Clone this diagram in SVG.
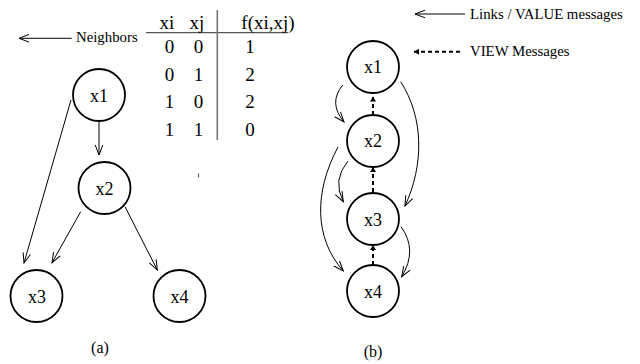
<svg xmlns="http://www.w3.org/2000/svg" width="640" height="364" viewBox="0 0 640 364" font-family="'Liberation Serif', 'DejaVu Serif', serif">
  <style>
    text { font-family: 'Liberation Serif', 'DejaVu Serif', serif; fill: #000; }
    .lbl { font-size: 18px; text-anchor: middle; }
    .tbl { font-size: 19px; text-anchor: middle; }
    .leg { font-size: 14.8px; }
    .cap { font-size: 16px; text-anchor: middle; }
    .node circle { fill: #fff; stroke: #000; stroke-width: 1.8; }
    .link { fill: none; stroke: #000; stroke-width: 1; marker-end: url(#open); }
    .view { fill: none; stroke: #000; stroke-width: 2; stroke-dasharray: 4 3; marker-end: url(#solid); }
  </style>
  <defs>
    <marker id="open" markerUnits="userSpaceOnUse" markerWidth="14" markerHeight="12" viewBox="-12 -6 14 12" refX="0" refY="0" orient="auto">
      <path d="M-10,-3.8 L0,0 L-10,3.8" fill="none" stroke="#000" stroke-width="1"/>
    </marker>
    <marker id="solid" markerUnits="userSpaceOnUse" markerWidth="10" markerHeight="10" viewBox="-6 -5 8 10" refX="0" refY="0" orient="auto">
      <path d="M-5,-3 L0,0 L-5,3 Z" fill="#000"/>
    </marker>
  </defs>

  <!-- Panel (a): constraint table -->
  <g id="table">
    <line x1="146" y1="32.7" x2="288" y2="32.7" stroke="#555" stroke-width="1.2"/>
    <line x1="217.3" y1="10" x2="217.3" y2="140" stroke="#777" stroke-width="1.6"/>
    <text class="tbl" x="167" y="28.5">xi</text>
    <text class="tbl" x="197" y="28.5">xj</text>
    <text class="tbl" x="268" y="28.5">f(xi,xj)</text>
    <text class="tbl" x="169.5" y="53">0</text><text class="tbl" x="198.5" y="53">0</text><text class="tbl" x="250" y="53">1</text>
    <text class="tbl" x="169.5" y="80.5">0</text><text class="tbl" x="198.5" y="80.5">1</text><text class="tbl" x="250" y="80.5">2</text>
    <text class="tbl" x="169.5" y="108">1</text><text class="tbl" x="198.5" y="108">0</text><text class="tbl" x="250" y="108">2</text>
    <text class="tbl" x="169.5" y="136">1</text><text class="tbl" x="198.5" y="136">1</text><text class="tbl" x="250" y="136">0</text>
  </g>
  <line x1="198.5" y1="173.5" x2="198.5" y2="177.5" stroke="#666" stroke-width="1.2"/>

  <!-- Legends -->
  <g id="legend-neighbors">
    <line x1="71.7" y1="38.3" x2="19" y2="38.3" class="link"/>
    <text class="leg" x="76" y="42">Neighbors</text>
  </g>
  <g id="legend-links">
    <line x1="465" y1="14" x2="415" y2="14" class="link"/>
    <text class="leg" x="470" y="18.5">Links / VALUE messages</text>
  </g>
  <g id="legend-view">
    <line x1="460" y1="51.7" x2="414" y2="51.7" class="view"/>
    <text class="leg" x="470" y="55.5">VIEW Messages</text>
  </g>

  <!-- Connectors -->
  <g id="connectors">
    <!-- panel (a) -->
    <line class="link" x1="99" y1="122" x2="99" y2="155"/>
    <line class="link" x1="71" y1="100" x2="24" y2="263"/>
    <line class="link" x1="80.7" y1="211.7" x2="52" y2="262.7"/>
    <line class="link" x1="125" y1="206.7" x2="157.3" y2="270"/>
    <!-- panel (b): VALUE messages -->
    <path class="link" d="M342.7,85 Q328,103 344,122"/>
    <path class="link" d="M400.7,81.7 C424,118 424,165 405,206"/>
    <path class="link" d="M348,161 Q332,180 343.3,201.7"/>
    <path class="link" d="M338,147 C314,192 314,238 343.3,271"/>
    <path class="link" d="M401,226.7 Q418,250 401.7,276.7"/>
    <!-- panel (b): VIEW messages -->
    <line class="view" x1="373" y1="115" x2="373" y2="96.5"/>
    <line class="view" x1="373" y1="192" x2="373" y2="167"/>
    <line class="view" x1="373" y1="265" x2="373" y2="245"/>
  </g>

  <!-- Panel (a) nodes -->
  <g id="a-x1" class="node"><circle cx="99" cy="95" r="26"/><text class="lbl" x="99" y="101.5">x1</text></g>
  <g id="a-x2" class="node"><circle cx="104.5" cy="188" r="26"/><text class="lbl" x="104.5" y="194.5">x2</text></g>
  <g id="a-x3" class="node"><circle cx="36.5" cy="296" r="26"/><text class="lbl" x="37" y="302.5">x3</text></g>
  <g id="a-x4" class="node"><circle cx="179.5" cy="296" r="26"/><text class="lbl" x="179.5" y="302.5">x4</text></g>

  <!-- Panel (b) nodes -->
  <g id="b-x1" class="node"><circle cx="373" cy="67" r="26"/><text class="lbl" x="373" y="73">x1</text></g>
  <g id="b-x2" class="node"><circle cx="373" cy="141" r="26"/><text class="lbl" x="373" y="147">x2</text></g>
  <g id="b-x3" class="node"><circle cx="373" cy="219" r="26"/><text class="lbl" x="373" y="225.5">x3</text></g>
  <g id="b-x4" class="node"><circle cx="373" cy="291" r="26"/><text class="lbl" x="373" y="297.5">x4</text></g>

  <!-- Captions -->
  <text class="cap" x="100" y="353">(a)</text>
  <text class="cap" x="373" y="356.5">(b)</text>
</svg>
